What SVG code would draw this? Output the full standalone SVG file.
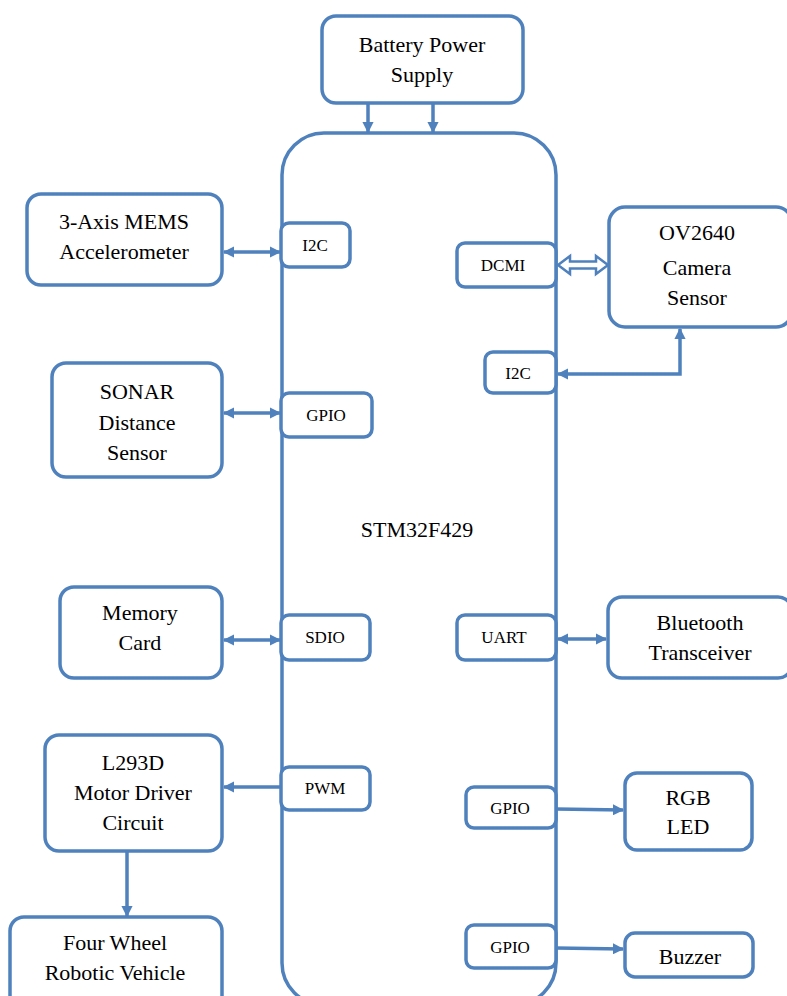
<svg xmlns="http://www.w3.org/2000/svg" width="787" height="996" viewBox="0 0 787 996" font-family="Liberation Serif, DejaVu Serif, serif">
<style>
.b{fill:#fff;stroke:#4f81bd;stroke-width:3.5}
.c{fill:none;stroke:#4f81bd;stroke-width:3.5}
text{fill:#000;text-anchor:middle}
.t{font-size:22px}
.p{font-size:17px}
</style>
<defs>
<marker id="ah" viewBox="0 0 10 10" refX="9" refY="5" markerWidth="3.2" markerHeight="3.2" orient="auto-start-reverse" markerUnits="strokeWidth"><path d="M0,0 L10,5 L0,10 z" fill="#4f81bd"/></marker>
</defs>
<rect width="787" height="996" fill="#fff"/>
<g id="mcu"><rect class="b" x="282" y="133" width="274" height="872" rx="42"/><text class="t" x="417" y="537">STM32F429</text></g>
<g id="battery"><rect class="b" x="322" y="16" width="201" height="87" rx="14"/><text class="t" x="422" y="52">Battery Power</text><text class="t" x="422" y="82">Supply</text></g>
<g id="accel"><rect class="b" x="27" y="194" width="195" height="91" rx="14"/><text class="t" x="124" y="229">3-Axis MEMS</text><text class="t" x="124" y="259">Accelerometer</text></g>
<g id="sonar"><rect class="b" x="52" y="363" width="170" height="114" rx="14"/><text class="t" x="137" y="399">SONAR</text><text class="t" x="137" y="430">Distance</text><text class="t" x="137" y="460">Sensor</text></g>
<g id="memory"><rect class="b" x="60" y="587" width="162" height="91" rx="14"/><text class="t" x="140" y="620">Memory</text><text class="t" x="140" y="650">Card</text></g>
<g id="l293d"><rect class="b" x="45" y="735" width="177" height="116" rx="14"/><text class="t" x="133" y="770">L293D</text><text class="t" x="133" y="800">Motor Driver</text><text class="t" x="133" y="830">Circuit</text></g>
<g id="vehicle"><rect class="b" x="10" y="917" width="212" height="100" rx="14"/><text class="t" x="115" y="950">Four Wheel</text><text class="t" x="115" y="980">Robotic Vehicle</text></g>
<g id="camera"><rect class="b" x="609" y="207" width="183" height="120" rx="16"/><text class="t" x="697" y="240">OV2640</text><text class="t" x="697" y="275">Camera</text><text class="t" x="697" y="305">Sensor</text></g>
<g id="bluetooth"><rect class="b" x="608" y="597" width="184" height="81" rx="14"/><text class="t" x="700" y="630">Bluetooth</text><text class="t" x="700" y="660">Transceiver</text></g>
<g id="rgb"><rect class="b" x="625" y="773" width="127" height="77" rx="12"/><text class="t" x="688" y="805">RGB</text><text class="t" x="688" y="834">LED</text></g>
<g id="buzzer"><rect class="b" x="625" y="933" width="128" height="44" rx="10"/><text class="t" x="690" y="964">Buzzer</text></g>
<g id="port-i2c-l"><rect class="b" x="281" y="223" width="69" height="44" rx="8"/><text class="p" x="315" y="251">I2C</text></g>
<g id="port-gpio-l"><rect class="b" x="281" y="393" width="91" height="44" rx="8"/><text class="p" x="326" y="421">GPIO</text></g>
<g id="port-sdio"><rect class="b" x="281" y="615" width="89" height="45" rx="8"/><text class="p" x="325" y="643">SDIO</text></g>
<g id="port-pwm"><rect class="b" x="281" y="767" width="89" height="43" rx="8"/><text class="p" x="325" y="794">PWM</text></g>
<g id="port-dcmi"><rect class="b" x="457" y="243" width="99" height="44" rx="8"/><text class="p" x="503" y="271">DCMI</text></g>
<g id="port-i2c-r"><rect class="b" x="485" y="352" width="71" height="41" rx="8"/><text class="p" x="518" y="379">I2C</text></g>
<g id="port-uart"><rect class="b" x="457" y="615" width="99" height="45" rx="8"/><text class="p" x="504" y="643">UART</text></g>
<g id="port-gpio-r1"><rect class="b" x="466" y="787" width="90" height="41" rx="8"/><text class="p" x="510" y="814">GPIO</text></g>
<g id="port-gpio-r2"><rect class="b" x="466" y="925" width="90" height="43" rx="8"/><text class="p" x="510" y="953">GPIO</text></g>
<g id="connectors">
<line class="c" x1="368" y1="103" x2="368" y2="132" marker-end="url(#ah)"/>
<line class="c" x1="433" y1="103" x2="433" y2="132" marker-end="url(#ah)"/>
<line class="c" x1="224" y1="252" x2="280" y2="252" marker-start="url(#ah)" marker-end="url(#ah)"/>
<line class="c" x1="224" y1="413" x2="280" y2="413" marker-start="url(#ah)" marker-end="url(#ah)"/>
<line class="c" x1="224" y1="640" x2="280" y2="640" marker-start="url(#ah)" marker-end="url(#ah)"/>
<line class="c" x1="281" y1="787" x2="224" y2="787" marker-end="url(#ah)"/>
<line class="c" x1="127" y1="852" x2="127" y2="916" marker-end="url(#ah)"/>
<path d="M558,265 L570,256 L570,261.5 L596,261.5 L596,256 L608,265 L596,274 L596,268.5 L570,268.5 L570,274 Z" fill="#fff" stroke="#4f81bd" stroke-width="2.5" stroke-linejoin="miter"/>
<polyline class="c" points="558,374 680,374 680,329" marker-start="url(#ah)" marker-end="url(#ah)"/>
<line class="c" x1="558" y1="639" x2="606" y2="639" marker-start="url(#ah)" marker-end="url(#ah)"/>
<line class="c" x1="556" y1="809" x2="623" y2="810" marker-end="url(#ah)"/>
<line class="c" x1="556" y1="948" x2="623" y2="949" marker-end="url(#ah)"/>
</g>
</svg>
